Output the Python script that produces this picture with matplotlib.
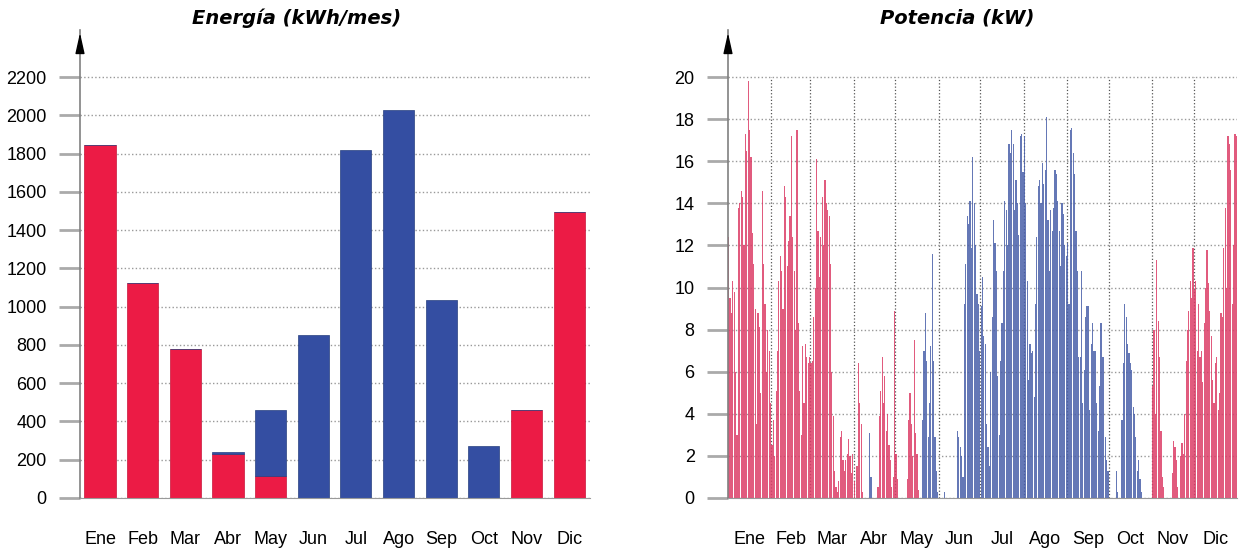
import numpy as np
import matplotlib
matplotlib.use('Agg')
import matplotlib.pyplot as plt

plt.rcParams['font.family'] = ['Liberation Sans', 'DejaVu Sans']

# Energia mensual (kWh/mes)
meses = ['Ene', 'Feb', 'Mar', 'Abr', 'May', 'Jun', 'Jul', 'Ago', 'Sep', 'Oct', 'Nov', 'Dic']
energia_calor = [1845, 1125, 780, 230, 115, 0, 0, 0, 0, 0, 460, 1495]
energia_frio = [0, 0, 0, 12, 345, 852, 1820, 2028, 1035, 272, 0, 0]

# Potencia maxima diaria (kW)
dias_mes = [31, 28, 31, 30, 31, 30, 31, 31, 30, 31, 30, 31]
calor_ene = [12.4, 9.5, 8.8, 10.3, 9.8, 6.0, 3.0, 13.8, 14.0, 14.6, 14.3, 12.0, 17.3, 16.5, 19.8, 17.5,
             16.2, 12.6, 11.1, 9.0, 3.5, 8.8, 8.1, 5.0, 14.6, 11.1, 9.2, 6.0, 8.0, 7.0, 4.5]
calor_feb = [2.5, 3.7, 2.0, 5.1, 7.0, 10.3, 11.5, 10.8, 9.0, 14.8, 14.3, 11.0, 12.2, 13.4, 17.2, 12.4,
             10.8, 8.0, 17.5, 8.3, 5.1, 3.0, 7.2, 4.5, 7.3, 6.7, 6.4, 6.7]
calor_mar = [6.4, 6.5, 8.6, 10.0, 16.1, 12.7, 10.5, 12.4, 14.3, 12.0, 15.1, 14.0, 13.7, 13.4, 11.1, 6.0,
             3.9, 1.3, 0.5, 0.3, 0.8, 2.9, 3.2, 1.8, 1.3, 1.8, 2.1, 2.8, 2.0, 1.2, 2.1]
calor_abr = [0.8, 0, 1.5, 6.4, 4.5, 3.5, 0.3, 0, 0, 0, 0, 0, 0, 0, 0, 0, 0, 0.5, 3.9, 5.1, 6.7, 4.5,
             5.8, 3.2, 4.0, 2.5, 1.8, 0.5, 1.0, 8.9]
frio_abr = [0, 0, 0, 0, 0, 0, 0, 0, 0, 0, 0, 3.1, 1.0, 0, 0, 0, 0, 0, 0, 0, 0, 0, 0, 0, 0, 0, 0, 0, 0, 0]
calor_may = [2.1, 0.9, 0, 0, 0, 0, 0, 0, 0.9, 3.7, 5.0, 3.5, 2.0, 7.5, 3.1, 2.1, 0.4, 0, 0, 0, 0, 0, 0,
             0, 0, 0, 0, 0, 0, 0, 0]
frio_may = [0, 0, 0, 0, 0, 0, 0, 0, 0, 0, 0, 0, 0, 0, 0, 0, 0, 0, 0, 3.7, 7.0, 8.8, 6.5, 2.9, 4.5, 7.2,
            11.6, 6.5, 2.9, 1.3, 0.3]
frio_jun = [0, 0, 0, 0, 0.3, 0, 0, 0, 0, 0, 0, 0, 0, 3.2, 2.9, 2.4, 2.0, 1.0, 9.2, 11.1, 13.4, 13.0,
            14.1, 11.9, 16.2, 14.0, 12.0, 9.7, 9.2, 7.0]
frio_jul = [9.1, 10.5, 7.7, 7.3, 3.5, 2.4, 1.5, 6.0, 8.6, 13.2, 12.1, 10.8, 5.8, 3.0, 6.5, 8.3, 10.8,
            14.1, 13.7, 12.0, 16.8, 16.4, 17.5, 16.8, 13.7, 15.1, 14.0, 12.5, 17.2, 17.3, 15.5]
frio_ago = [17.2, 14.0, 10.3, 5.6, 7.3, 6.9, 7.0, 4.8, 9.2, 12.4, 14.8, 15.1, 14.0, 15.9, 14.9, 15.6,
            18.1, 13.2, 10.8, 13.7, 12.7, 13.8, 15.6, 15.4, 14.1, 12.7, 11.0, 14.0, 13.5, 12.0, 11.5]
frio_sep = [12.1, 9.2, 17.5, 17.6, 16.4, 15.4, 12.7, 10.8, 6.7, 6.7, 10.8, 4.5, 6.1, 8.6, 9.1, 9.1, 4.2,
            7.3, 8.3, 7.0, 7.0, 4.5, 3.2, 5.3, 8.3, 6.7, 6.7, 2.9, 1.8, 1.3]
frio_oct = [0, 0, 0, 0, 0, 1.3, 0.3, 0, 0, 3.7, 6.4, 9.2, 8.6, 7.3, 6.9, 6.4, 6.1, 4.3, 4.0, 2.9, 1.3,
            1.8, 0.9, 0.3, 0, 0, 0, 0, 0, 0, 0]
calor_nov = [5.3, 8.0, 4.0, 11.3, 8.4, 6.7, 3.2, 1.0, 0.5, 0, 0, 0, 0, 0, 1.2, 2.7, 2.4, 1.8, 0.5, 0,
             2.0, 2.6, 2.1, 4.0, 6.5, 8.0, 8.9, 10.3, 9.5, 11.9]
calor_dic = [9.9, 10.3, 7.0, 9.2, 6.7, 7.0, 5.5, 8.3, 10.0, 11.8, 10.2, 8.9, 7.7, 5.6, 4.5, 6.4, 6.7,
             4.2, 5.0, 8.8, 8.6, 11.9, 13.8, 10.0, 17.2, 16.8, 15.6, 9.2, 12.0, 17.3, 17.2]

rojo = '#ec1b45'
azul = '#344ea2'


def ceros(n):
    return [0] * n


calor = np.array(calor_ene + calor_feb + calor_mar + calor_abr + calor_may + ceros(30) + ceros(31)
                 + ceros(31) + ceros(30) + ceros(31) + calor_nov + calor_dic)
frio = np.array(ceros(31) + ceros(28) + ceros(31) + frio_abr + frio_may + frio_jun + frio_jul
                + frio_ago + frio_sep + frio_oct + ceros(30) + ceros(31))
dias = np.arange(len(calor)) + 0.5
limites = np.cumsum(dias_mes)
centros = limites - np.array(dias_mes) / 2


def estilo(ax, ticks):
    for s in ['top', 'right']:
        ax.spines[s].set_visible(False)
    ax.spines['left'].set_color('#808080')
    ax.spines['left'].set_linewidth(1.2)
    ax.spines['bottom'].set_color('#9a9a9a')
    ax.set_yticks(ticks)
    ax.tick_params(axis='y', length=15, width=2, color='#aaaaaa', pad=9, labelsize=13)
    ax.tick_params(axis='x', length=0, pad=24, labelsize=13)
    ax.yaxis.grid(True, ls=':', color='#999999', lw=1)
    ax.set_axisbelow(True)
    ax.annotate('', xy=(0, 1), xytext=(0, 0.96), xycoords='axes fraction',
                arrowprops=dict(arrowstyle='-|>,head_length=0.9,head_width=0.2',
                                mutation_scale=14, color='black', lw=1))


W, H = 1239, 554
fig = plt.figure(figsize=(W / 100, H / 100), dpi=100)

# Energia
ax1 = fig.add_axes([80 / W, 56 / H, 510 / W, 468 / H])
x = np.arange(len(meses))
ax1.bar(x, energia_calor, width=0.73, color=rojo, edgecolor='#c8153a', linewidth=0.5)
ax1.bar(x, energia_frio, width=0.73, bottom=energia_calor, color=azul, edgecolor='#27407f', linewidth=0.5)
ax1.set_xlim(-0.47, 11.49)
ax1.set_ylim(0, 2200 * 468 / 421)
ax1.set_xticks(x)
ax1.set_xticklabels(meses)
estilo(ax1, np.arange(0, 2201, 200))

# Potencia
ax2 = fig.add_axes([728 / W, 56 / H, 509 / W, 468 / H])
ax2.bar(dias, calor, width=0.85, color='#dc3e68', alpha=0.85, linewidth=0)
ax2.bar(dias, frio, width=0.85, color='#4a60aa', alpha=0.85, linewidth=0)
ax2.vlines(limites[:-1], 0, 20, colors='#555555', linestyles=':', lw=0.9, zorder=0.5)
ax2.set_xlim(0, 365)
ax2.set_ylim(0, 20 * 468 / 421)
ax2.set_xticks(centros)
ax2.set_xticklabels(meses)
estilo(ax2, np.arange(0, 21, 2))

fig.text(297 / W, 1 - 18 / H, 'Energía (kWh/mes)', ha='center', va='center', fontsize=14,
         fontweight='bold', fontstyle='italic', family='DejaVu Sans')
fig.text(957 / W, 1 - 18 / H, 'Potencia (kW)', ha='center', va='center', fontsize=14,
         fontweight='bold', fontstyle='italic', family='DejaVu Sans')

fig.savefig('out.png', dpi=100)
